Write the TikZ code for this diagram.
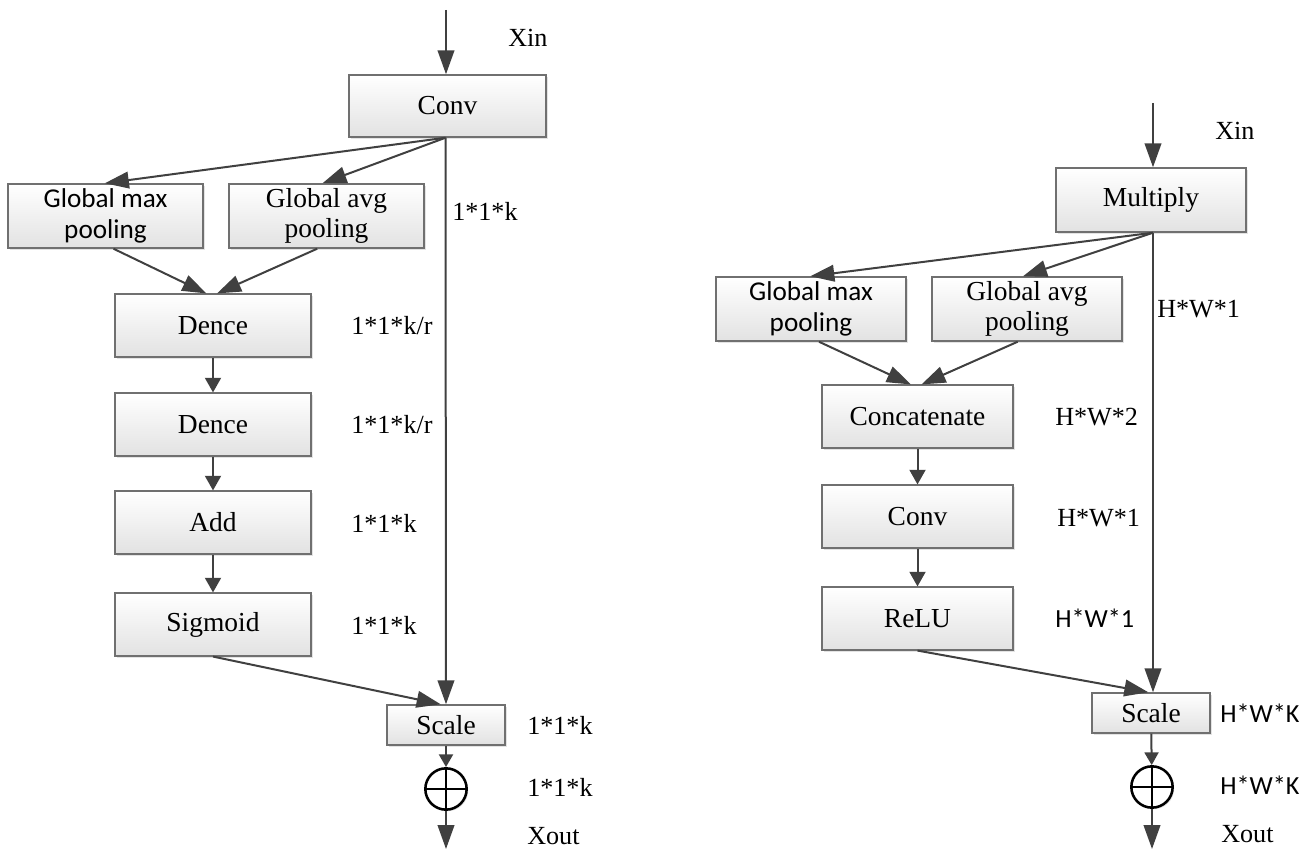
\documentclass[tikz,border=0pt]{standalone}
\usepackage{fontspec}
\setmainfont{Liberation Serif}
\newfontfamily\calibri{Carlito}
\usetikzlibrary{arrows.meta,shadows}
\definecolor{wire}{HTML}{404040}
\definecolor{boxline}{HTML}{707070}
\definecolor{boxfill}{HTML}{E2E2E2}
\begin{document}
\begin{tikzpicture}[x=0.75pt,y=-0.75pt,
  txt/.style={font=\fontsize{19.6}{22}\selectfont, text=black},
  btxt/.style={font=\fontsize{20.6}{23}\selectfont, text=black},
  stxt/.style={font=\calibri\fontsize{20.4}{23}\selectfont, text=black},
  sltxt/.style={font=\calibri\fontsize{19.6}{22}\selectfont, text=black},
  box/.style={draw=boxline, line width=1.1pt, top color=white, bottom color=boxfill,
    inner sep=0pt, align=center, btxt,
    drop shadow={shadow xshift=1.6pt, shadow yshift=-1.6pt, opacity=0.22}},
  wideL/.style={box, minimum width=147pt, minimum height=47pt},
  poolL/.style={box, minimum width=146pt, minimum height=48pt},
  wideR/.style={box, minimum width=143pt, minimum height=47pt},
  poolR/.style={box, minimum width=142.5pt, minimum height=48pt},
  scalebox/.style={box, minimum width=88.5pt, minimum height=30pt},
  sumnode/.style={circle, draw=black, line width=1.9pt, fill=white, minimum size=31pt,
    inner sep=0pt,
    drop shadow={shadow xshift=1.2pt, shadow yshift=-1.2pt, opacity=0.2},
    path picture={\draw[black, line width=1.9pt]
      (path picture bounding box.north) -- (path picture bounding box.south)
      (path picture bounding box.west) -- (path picture bounding box.east);}},
  lbl/.style={txt, anchor=west, inner sep=0pt},
  slbl/.style={sltxt, anchor=west, inner sep=0pt},
  arr/.style={draw=wire, line width=1.5pt, -{Triangle[length=18pt,width=12.5pt]}},
  arrs/.style={draw=wire, line width=1.5pt, -{Triangle[length=11pt,width=12pt]}},
  arrt/.style={draw=wire, line width=1.5pt, -{Triangle[length=9.5pt,width=10.5pt]}}]

\useasboundingbox (0,0) rectangle (1315,852);

% ---------- left block: channel attention ----------
\coordinate (inL) at (446,10);
\coordinate (outL) at (446,849);
\node[box, minimum width=147.75pt, minimum height=46.5pt] (convL) at (447.5,106) {Conv};
\node[poolL, stxt] (gmpL) at (105.5,216) {Global max\\pooling};
\node[poolL] (gapL) at (326.5,216) {Global avg\\pooling};
\node[wideL] (den1L) at (213,325.5) {Dence};
\node[wideL] (den2L) at (213,424.5) {Dence};
\node[wideL] (addL) at (213,522.5) {Add};
\node[wideL] (sigL) at (213,624.5) {Sigmoid};
\node[scalebox] (scaleL) at (446,725) {Scale};
\node[sumnode] (sumL) at (446,789) {};

\node[lbl] (xinL) at (508,38) {Xin};
\node[lbl] (kL0) at (452,211) {1*1*k};
\node[lbl] (kL1) at (351,326) {1*1*k/r};
\node[lbl] (kL2) at (351,425) {1*1*k/r};
\node[lbl] (kL3) at (351,523) {1*1*k};
\node[lbl] (kL4) at (351,625) {1*1*k};
\node[lbl] (kL5) at (527,725) {1*1*k};
\node[lbl] (kL6) at (527,787) {1*1*k};
\node[lbl] (xoutL) at (527,836) {Xout};

\draw[arr] (inL) -- (convL.north -| inL);
\draw[arr] ([xshift=-1.5pt]convL.south) -- ([xshift=-0.5pt]gmpL.north);
\draw[arr] ([xshift=-1.5pt]convL.south) -- ([xshift=-3pt]gapL.north);
\draw[arr] ([xshift=-1.5pt]convL.south) -- (scaleL.north);
\draw[arr] ([xshift=6pt]gmpL.south) -- ([xshift=-5pt]den1L.north);
\draw[arr] ([xshift=-7pt]gapL.south) -- ([xshift=3pt]den1L.north);
\draw[arrs] (den1L) -- (den2L);
\draw[arrs] (den2L) -- (addL);
\draw[arrs] (addL) -- (sigL);
\draw[arr] (sigL.south) -- ([xshift=-4pt]scaleL.north);
\draw[arrt] (scaleL) -- (sumL);
\draw[arr] (sumL) -- (outL);

% ---------- right block: spatial attention ----------
\coordinate (inR) at (1153,103);
\coordinate (outR) at (1152,849);
\node[box, minimum width=142.5pt, minimum height=48pt] (mulR) at (1151,200) {Multiply};
\node[poolR, stxt] (gmpR) at (811,309) {Global max\\pooling};
\node[poolR] (gapR) at (1027,309) {Global avg\\pooling};
\node[wideR] (catR) at (917.5,416.5) {Concatenate};
\node[wideR] (convR) at (917.5,516.5) {Conv};
\node[wideR] (reluR) at (917.5,618.5) {ReLU};
\node[scalebox] (scaleR) at (1151,713) {Scale};
\node[sumnode] (sumR) at (1152,787) {};

\node[lbl] (xinR) at (1215,131) {Xin};
\node[lbl] (hwR0) at (1157,309) {H*W*1};
\node[lbl] (hwR1) at (1055,417) {H*W*2};
\node[lbl] (hwR2) at (1057,518) {H*W*1};
\node[slbl] (hwR3) at (1055,618) {H*W*1};
\node[slbl] (hwR4) at (1220,713) {H*W*K};
\node[slbl] (hwR5) at (1220,785) {H*W*K};
\node[lbl] (xoutR) at (1221,834) {Xout};

\draw[arr] (inR) -- (mulR.north -| inR);
\draw[arr] ([xshift=1.5pt]mulR.south) -- ([xshift=-0.5pt]gmpR.north);
\draw[arr] ([xshift=1.5pt]mulR.south) -- ([xshift=-3pt]gapR.north);
\draw[arr] ([xshift=1.5pt]mulR.south) -- ([xshift=1.5pt]scaleR.north);
\draw[arr] ([xshift=6pt]gmpR.south) -- ([xshift=-5pt]catR.north);
\draw[arr] ([xshift=-7pt]gapR.south) -- ([xshift=3pt]catR.north);
\draw[arrs] (catR) -- (convR);
\draw[arrs] (convR) -- (reluR);
\draw[arr] (reluR.south) -- ([xshift=-2pt]scaleR.north);
\draw[arrt] (scaleR) -- (sumR);
\draw[arr] (sumR) -- (outR);
\end{tikzpicture}
\end{document}
